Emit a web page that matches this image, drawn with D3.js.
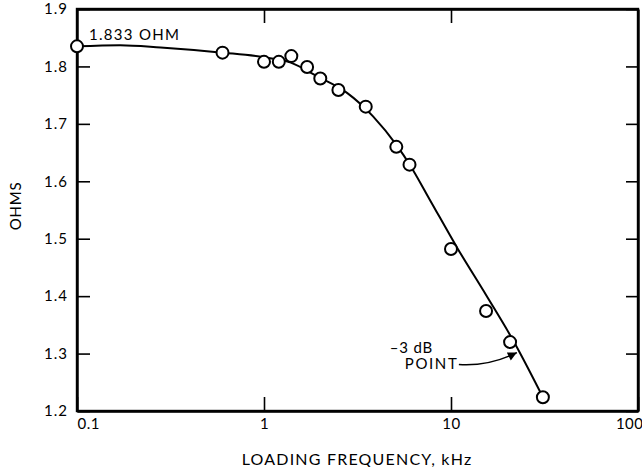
<!DOCTYPE html>
<html>
<head>
<meta charset="utf-8">
<script src="https://cdn.jsdelivr.net/npm/d3@7"></script>
<style>
  body { margin: 0; background: #fff; }
  svg text { font-family: Lato, "DejaVu Sans", sans-serif; fill: #000; }
</style>
</head>
<body>
<div id="chart"></div>
<script>
// 测量点 (kHz, ohms)
const measFreq = [0.1, 0.6, 1.0, 1.2, 1.4, 1.7, 2.0, 2.5, 3.5, 5.1, 6.0, 10, 15.4, 20.7, 31];
const measOhms = [1.835, 1.824, 1.808, 1.808, 1.818, 1.799, 1.779, 1.759, 1.730, 1.660, 1.629, 1.482, 1.374, 1.320, 1.224];

// 拟合曲线
const curveFreq = [0.1, 0.17, 0.28, 0.6, 1.0, 1.38, 1.92, 2.78, 3.83, 5.14, 6.04, 7.7, 10.8, 15.4, 21.4, 31];
const curveOhms = [1.835, 1.837, 1.833, 1.824, 1.816, 1.807, 1.783, 1.754, 1.713, 1.662, 1.628, 1.568, 1.484, 1.402, 1.324, 1.224];

const xTicks = [0.1, 1, 10, 100];
const xTickLabels = ["0.1", "1", "10", "100"];
const yTicks = [1.2, 1.3, 1.4, 1.5, 1.6, 1.7, 1.8, 1.9];

const dcLabel = "1.833 OHM";
const dcValue = 1.833;
const pointNote = { freq: 22.5, ohms: 1.3, line1: "\u20133 dB", line2: "POINT" };

const W = 642, H = 467;
const M = { top: 9, right: 4, bottom: 56, left: 77 };

const svg = d3.select("#chart").append("svg")
  .attr("width", W)
  .attr("height", H);

const x = d3.scaleLog()
  .domain([0.1, 100])
  .range([M.left, W - M.right]);

const y = d3.scaleLinear()
  .domain([1.2, 1.9])
  .range([H - M.bottom, M.top]);

const fmt = d3.format(".1f");

// 外框
svg.append("rect")
  .attr("x", M.left)
  .attr("y", M.top)
  .attr("width", W - M.left - M.right)
  .attr("height", H - M.top - M.bottom)
  .attr("fill", "none")
  .attr("stroke", "#000")
  .attr("stroke-width", 2.4);

// 左轴
svg.append("g")
  .attr("transform", `translate(${M.left},0)`)
  .call(d3.axisLeft(y).tickValues(yTicks).tickFormat(fmt).tickSizeInner(-13).tickSizeOuter(0).tickPadding(9))
  .call(g => g.selectAll("text").style("font-size", "15px").style("letter-spacing", "1px"));

// 右轴
svg.append("g")
  .attr("transform", `translate(${W - M.right},0)`)
  .call(d3.axisRight(y).tickValues(yTicks).tickFormat("").tickSizeInner(-12).tickSizeOuter(0));

// 底轴
svg.append("g")
  .attr("transform", `translate(0,${H - M.bottom})`)
  .call(d3.axisBottom(x).tickValues(xTicks).tickFormat((d, i) => xTickLabels[i]).tickSizeInner(-14).tickSizeOuter(0).tickPadding(7))
  .call(g => g.selectAll("text")
    .style("font-size", "15px")
    .style("letter-spacing", "0.5px")
    .attr("text-anchor", (d, i) => i === 0 ? "start" : (i === xTicks.length - 1 ? "end" : "middle"))
    .attr("dx", (d, i) => i === xTicks.length - 1 ? 5 : 0));

// 顶轴
svg.append("g")
  .attr("transform", `translate(0,${M.top})`)
  .call(d3.axisTop(x).tickValues([1, 10]).tickFormat("").tickSizeInner(-14).tickSizeOuter(0));

svg.selectAll(".domain")
  .attr("stroke", "#000")
  .attr("stroke-width", 2.4);
svg.selectAll(".tick line")
  .attr("stroke", "#000")
  .attr("stroke-width", 1.6);

// 轴标题
svg.append("text")
  .attr("x", 357)
  .attr("y", 465)
  .attr("text-anchor", "middle")
  .style("font-size", "16px")
  .style("letter-spacing", "1.2px")
  .text("LOADING FREQUENCY, kHz");

svg.append("text")
  .attr("transform", "translate(21,206) rotate(-90)")
  .attr("text-anchor", "middle")
  .style("font-size", "15px")
  .style("letter-spacing", "0.8px")
  .text("OHMS");

// 曲线
const curveData = curveFreq.map((f, i) => [f, curveOhms[i]]);
svg.append("path")
  .datum(curveData)
  .attr("fill", "none")
  .attr("stroke", "#000")
  .attr("stroke-width", 2)
  .attr("d", d3.line()
    .x(d => x(d[0]))
    .y(d => y(d[1]))
    .curve(d3.curveMonotoneX));

// 测量点
const measData = measFreq.map((f, i) => [f, measOhms[i]]);
svg.selectAll(".pt")
  .data(measData)
  .join("circle")
  .attr("class", "pt")
  .attr("cx", d => x(d[0]))
  .attr("cy", d => y(d[1]))
  .attr("r", 6)
  .attr("fill", "#fff")
  .attr("stroke", "#000")
  .attr("stroke-width", 2);

// 1.833 OHM 标注
svg.append("text")
  .attr("x", x(0.1) + 12)
  .attr("y", y(dcValue) - 7)
  .style("font-size", "15px")
  .style("letter-spacing", "1.3px")
  .text(dcLabel);

// -3 dB 标注
const tx = x(pointNote.freq), ty = y(pointNote.ohms);
svg.append("defs").append("marker")
  .attr("id", "arrow")
  .attr("viewBox", "0 0 10 10")
  .attr("refX", 10)
  .attr("refY", 5)
  .attr("markerWidth", 15)
  .attr("markerHeight", 9)
  .attr("markerUnits", "userSpaceOnUse")
  .attr("orient", "auto")
  .append("path")
  .attr("d", "M0,0L10,5L0,10Z")
  .attr("fill", "#000");

svg.append("path")
  .attr("d", `M${tx - 58},${ty + 11} Q${tx - 28},${ty + 13} ${tx},${ty - 1}`)
  .attr("fill", "none")
  .attr("stroke", "#000")
  .attr("stroke-width", 1.5)
  .attr("marker-end", "url(#arrow)");

svg.append("text")
  .attr("x", tx - 127)
  .attr("y", ty - 1)
  .style("font-size", "15px")
  .style("letter-spacing", "0.8px")
  .text(pointNote.line1);

svg.append("text")
  .attr("x", tx - 112)
  .attr("y", ty + 15)
  .style("font-size", "15px")
  .style("letter-spacing", "1.6px")
  .text(pointNote.line2);
</script>
</body>
</html>
